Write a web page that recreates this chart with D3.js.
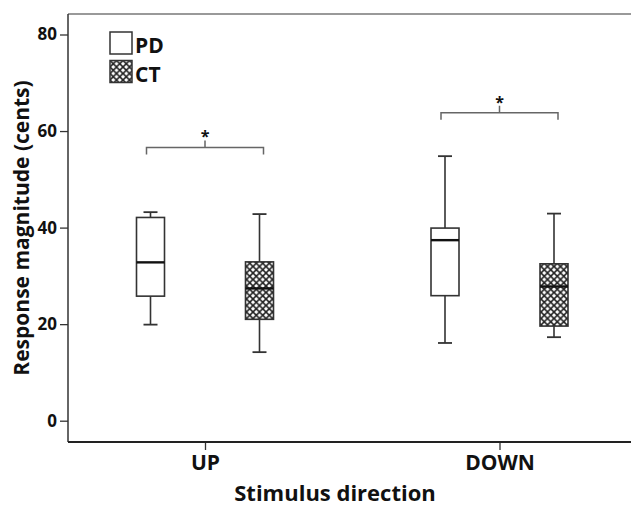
<!DOCTYPE html>
<html>
<head>
<meta charset="utf-8">
<script src="https://cdn.jsdelivr.net/npm/d3@7"></script>
<style>
  body { margin: 0; background: #fff; }
  text { font-family: "Open Sans", "DejaVu Sans", sans-serif; font-weight: bold; fill: #111; }
</style>
</head>
<body>
<script>
// stimulus directions and groups
const directions = ['UP', 'DOWN']
const groups = ['PD', 'CT']
// box stats per direction: [PD, CT]
const whiskerLow = [[19.9, 14.2], [16.1, 17.3]]
const q1 = [[25.8, 21.0], [25.9, 19.6]]
const median = [[32.8, 27.4], [37.4, 27.8]]
const q3 = [[42.1, 32.9], [39.9, 32.5]]
const whiskerHigh = [[43.2, 42.8], [54.8, 42.9]]
// significance brackets
const bracketLevel = [56.6, 63.8]
const yTicks = [0, 20, 40, 60, 80]

const W = 631, H = 507
const frameLeft = 68, frameTop = 14, frameBottom = 442, frameRight = 631

const svg = d3.select('body').append('svg')
  .attr('width', W)
  .attr('height', H)

// cross hatch fill for CT
const defs = svg.append('defs')
const pat = defs.append('pattern')
  .attr('id', 'hatch')
  .attr('patternUnits', 'userSpaceOnUse')
  .attr('width', 6.5)
  .attr('height', 6.5)
pat.append('rect').attr('width', 6.5).attr('height', 6.5).attr('fill', '#fff')
pat.append('path')
  .attr('d', 'M0,0L6.5,6.5M6.5,0L0,6.5')
  .attr('stroke', '#222')
  .attr('stroke-width', 1.6)

const y = d3.scaleLinear().domain([0, 80]).range([420.7, 34.5])

// group centre = axis tick, groups sit either side of it
const x = d3.scalePoint().domain(directions).range([205, 499.5])
const xInner = d3.scalePoint().domain(groups).range([-54.5, 54.5])
const boxW = 28, capW = 14

// frame: top line in grey, no right line
svg.append('line')
  .attr('x1', frameLeft).attr('x2', frameRight)
  .attr('y1', frameTop).attr('y2', frameTop)
  .attr('stroke', '#777').attr('stroke-width', 1.5)

const yAxis = svg.append('g')
  .attr('transform', 'translate(' + frameLeft + ',0)')
  .call(d3.axisLeft(y).tickValues(yTicks).tickSize(8).tickPadding(3))
yAxis.select('.domain').remove()
yAxis.append('line')
  .attr('y1', frameTop).attr('y2', frameBottom)
  .attr('stroke', '#333').attr('stroke-width', 1.5)
yAxis.selectAll('.tick line').attr('stroke', '#333').attr('stroke-width', 1.3)
yAxis.selectAll('.tick text')
  .style('font-size', '17px')
  .style('font-family', '"Open Sans", sans-serif')
  .style('font-weight', 'bold')
  .attr('fill', '#111')

const xAxis = svg.append('g')
  .attr('transform', 'translate(0,' + frameBottom + ')')
  .call(d3.axisBottom(x).tickSize(8).tickPadding(5))
xAxis.select('.domain').remove()
xAxis.append('line')
  .attr('x1', frameLeft).attr('x2', frameRight)
  .attr('stroke', '#222').attr('stroke-width', 1.8)
xAxis.selectAll('.tick line').attr('stroke', '#333').attr('stroke-width', 1.3)
xAxis.selectAll('.tick text')
  .style('font-size', '21px')
  .style('font-family', '"Open Sans", sans-serif')
  .style('font-weight', 'bold')
  .attr('fill', '#111')

// axis titles
svg.append('text')
  .attr('x', 335).attr('y', 501)
  .attr('text-anchor', 'middle')
  .style('font-size', '22px')
  .text('Stimulus direction')

svg.append('text')
  .attr('transform', 'translate(29,228) rotate(-90)')
  .attr('text-anchor', 'middle')
  .style('font-size', '21px')
  .text('Response magnitude (cents)')

// boxes
const boxData = []
directions.forEach(function(d, i) {
  groups.forEach(function(g, j) {
    boxData.push({ dir: d, grp: g, lo: whiskerLow[i][j], q1: q1[i][j], med: median[i][j], q3: q3[i][j], hi: whiskerHigh[i][j] })
  })
})

const boxes = svg.selectAll('g.box')
  .data(boxData)
  .enter()
  .append('g')
  .attr('class', 'box')
  .attr('transform', function(d) {
    return 'translate(' + (x(d.dir) + xInner(d.grp)) + ',0)'
  })

boxes.append('line') // whisker stem
  .attr('y1', function(d) { return y(d.lo) })
  .attr('y2', function(d) { return y(d.hi) })
  .attr('stroke', '#333').attr('stroke-width', 1.6)

boxes.selectAll('line.cap')
  .data(function(d) { return [d.lo, d.hi] })
  .enter()
  .append('line')
  .attr('class', 'cap')
  .attr('x1', -capW / 2).attr('x2', capW / 2)
  .attr('y1', function(v) { return y(v) })
  .attr('y2', function(v) { return y(v) })
  .attr('stroke', '#333').attr('stroke-width', 1.8)

boxes.append('rect')
  .attr('x', -boxW / 2)
  .attr('width', boxW)
  .attr('y', function(d) { return y(d.q3) })
  .attr('height', function(d) { return y(d.q1) - y(d.q3) })
  .attr('fill', function(d) { return d.grp === 'CT' ? 'url(#hatch)' : '#fff' })
  .attr('stroke', '#333').attr('stroke-width', 1.6)

boxes.append('line') // median
  .attr('x1', -boxW / 2).attr('x2', boxW / 2)
  .attr('y1', function(d) { return y(d.med) })
  .attr('y2', function(d) { return y(d.med) })
  .attr('stroke', '#111').attr('stroke-width', 2.4)

// significance brackets
const brackets = svg.selectAll('g.bracket')
  .data(directions)
  .enter()
  .append('g')
  .attr('class', 'bracket')

brackets.append('path')
  .attr('d', function(d, i) {
    const x0 = x(d) + xInner('PD') - 4
    const x1 = x(d) + xInner('CT') + 4
    const yy = y(bracketLevel[i])
    const xm = x(d)
    return 'M' + x0 + ',' + (yy + 7) + 'V' + yy + 'H' + x1 + 'V' + (yy + 7) +
      'M' + xm + ',' + yy + 'V' + (yy - 7)
  })
  .attr('fill', 'none')
  .attr('stroke', '#666').attr('stroke-width', 1.5)

brackets.append('text')
  .attr('x', function(d) { return x(d) })
  .attr('y', function(d, i) { return y(bracketLevel[i]) - 5 })
  .attr('text-anchor', 'middle')
  .style('font-size', '16px')
  .text('*')

// legend
const legend = svg.selectAll('g.legend')
  .data(groups)
  .enter()
  .append('g')
  .attr('class', 'legend')
  .attr('transform', function(d, i) { return 'translate(110,' + (32 + i * 28.5) + ')' })

legend.append('rect')
  .attr('width', 22).attr('height', 22)
  .attr('fill', function(d) { return d === 'CT' ? 'url(#hatch)' : '#fff' })
  .attr('stroke', '#333').attr('stroke-width', 1.5)

legend.append('text')
  .attr('x', 25).attr('y', 21)
  .style('font-size', '21px')
  .text(function(d) { return d })
</script>
</body>
</html>
